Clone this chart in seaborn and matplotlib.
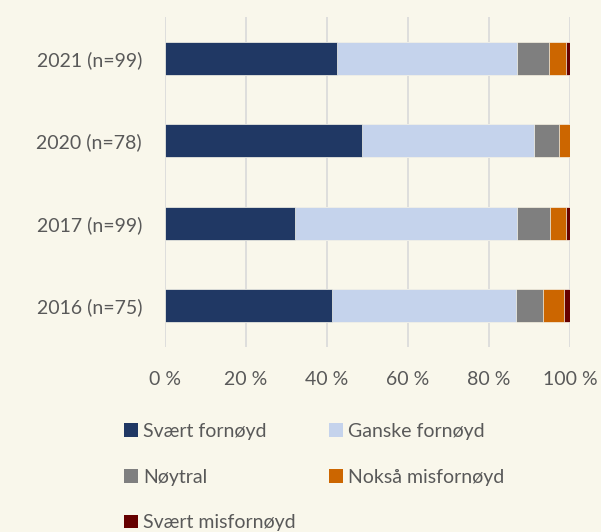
import matplotlib
matplotlib.use("Agg")
import matplotlib.pyplot as plt
import matplotlib.patches as mpatches
import seaborn as sns
import pandas as pd
import numpy as np

# Survey results, share of respondents (%)
years = ["2021 (n=99)", "2020 (n=78)", "2017 (n=99)", "2016 (n=75)"]
series = ["Svært fornøyd", "Ganske fornøyd", "Nøytral", "Nokså misfornøyd", "Svært misfornøyd"]
svaert_fornoyd = [42.4, 48.7, 32.0, 41.3]
ganske_fornoyd = [44.4, 42.3, 55.0, 45.3]
noytral = [8.1, 6.4, 8.0, 6.7]
noksa_misfornoyd = [4.0, 2.6, 4.0, 5.3]
svaert_misfornoyd = [1.1, 0.0, 1.0, 1.4]
xticks = [0, 20, 40, 60, 80, 100]
xtick_labels = ["0 %", "20 %", "40 %", "60 %", "80 %", "100 %"]

colors = ["#203864", "#C5D3EC", "#7F7F7F", "#CC6600", "#660000"]
bg = "#F9F7EB"
text_col = "#595959"
fs = 14

sns.set_theme(style="white")
plt.rcParams["font.family"] = ["Lato", "DejaVu Sans"]

values = np.array([svaert_fornoyd, ganske_fornoyd, noytral,
                   noksa_misfornoyd, svaert_misfornoyd])
cum = values.cumsum(axis=0)

fig = plt.figure(figsize=(6.01, 5.32), dpi=100, facecolor=bg)
ax = fig.add_axes([0.2745, 0.3477, 0.6739, 0.6203])
ax.set_facecolor(bg)

# Stack by drawing cumulative totals from the outermost segment inwards
for i in range(len(series) - 1, -1, -1):
    df = pd.DataFrame({"year": years, "value": cum[i]})
    sns.barplot(data=df, x="value", y="year", orient="h", color=colors[i],
                width=0.4, ax=ax, edgecolor=bg, linewidth=0.5,
                saturation=1, zorder=3)

ax.set_xlim(0, 100)
ax.set_ylim(3.5, -0.5)
ax.set_xticks(xticks)
ax.set_xticklabels(xtick_labels)
ax.set_xlabel("")
ax.set_ylabel("")
ax.grid(axis="x", color="#D9D9D9", linewidth=1.2, zorder=0)
ax.grid(axis="y", visible=False)
for s in ax.spines.values():
    s.set_visible(False)
ax.tick_params(axis="both", length=0, labelsize=fs, colors=text_col)
ax.tick_params(axis="x", pad=17)
ax.tick_params(axis="y", pad=16.5)

# Legend filled row by row: two entries per row
order = [0, 2, 4, 1, 3]
handles = [mpatches.Patch(facecolor=colors[k], edgecolor="none") for k in order]
labels = [series[k] for k in order]
fig.legend(handles, labels, ncol=2, loc="upper left",
           bbox_to_anchor=(0.193, 0.22), frameon=False,
           fontsize=fs, labelcolor=text_col,
           handlelength=0.72, handleheight=0.72, handletextpad=0.26,
           labelspacing=1.48, columnspacing=1.73, borderaxespad=0)

fig.savefig("out.png", dpi=100, facecolor=bg)
